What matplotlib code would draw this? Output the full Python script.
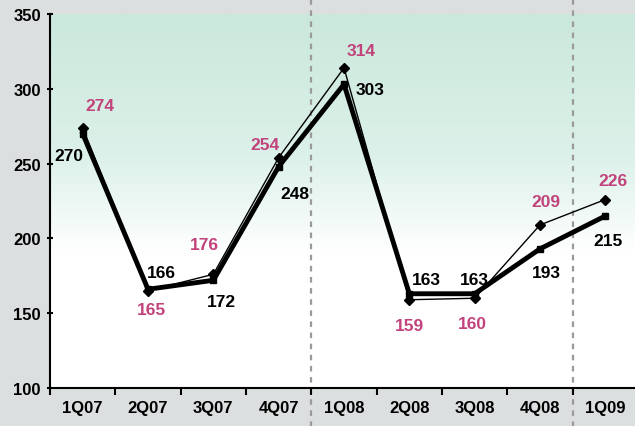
import numpy as np
import matplotlib
matplotlib.use("Agg")
import matplotlib.pyplot as plt
from matplotlib.colors import LinearSegmentedColormap

quarters = ['1Q07', '2Q07', '3Q07', '4Q07', '1Q08', '2Q08', '3Q08', '4Q08', '1Q09']
series_thick = [270, 166, 172, 248, 303, 163, 163, 193, 215]
series_thin = [274, 165, 176, 254, 314, 159, 160, 209, 226]

# label offsets in pixels (dx, dy) for each point
off_thick = [(-14, -22), (13, 17), (8, -21), (16, -27), (26, -5),
             (17, 14), (0, 14), (6, -24), (3, -25)]
off_thin = [(17, 22), (3, -19), (-9, 30), (-14, 13), (17, 17),
            (0, -26), (-2, -25), (6, 23), (8, 19)]

pink = '#c2437c'

plt.rcParams['font.family'] = ['Liberation Sans', 'DejaVu Sans']
plt.rcParams['font.weight'] = 'bold'

fig = plt.figure(figsize=(6.35, 4.27), dpi=100)
fig.patch.set_facecolor('#dcdfe0')
ax = fig.add_axes([50 / 635, 38 / 427, 588 / 635, 374 / 427])
ax.set_facecolor('white')

x = np.arange(len(quarters))
ax.set_xlim(-0.5, len(quarters) - 0.5)
ax.set_ylim(100, 350)

# green-to-white background wash
cmap = LinearSegmentedColormap.from_list(
    'wash', [(0.0, 'white'), (0.36, 'white'), (0.62, '#dcf1e9'), (1.0, '#cbe8dc')])
grad = np.linspace(0, 1, 256).reshape(-1, 1)
ax.imshow(grad, aspect='auto', cmap=cmap, origin='lower',
          extent=(-0.5, len(quarters) - 0.5, 100, 350), zorder=0)

# year separators
for xs in (3.5, 7.5):
    ax.axvline(xs, ymin=-0.12, ymax=1.05, color='#9a9a9a', lw=1.6,
               ls=(0, (2.5, 2.5)), clip_on=False, zorder=1)

ax.plot(x, series_thin, color='black', lw=1.0, marker='D', ms=5, zorder=3)
ax.plot(x, series_thick, color='black', lw=3.5, marker='s', ms=5, zorder=4)

for xi, v, (dx, dy) in zip(x, series_thick, off_thick):
    ax.annotate(str(v), (xi, v), xytext=(dx, dy), textcoords='offset pixels',
                ha='center', va='center', fontsize=12.5, fontweight='bold',
                color='black', zorder=5)
for xi, v, (dx, dy) in zip(x, series_thin, off_thin):
    ax.annotate(str(v), (xi, v), xytext=(dx, dy), textcoords='offset pixels',
                ha='center', va='center', fontsize=12.5, fontweight='bold',
                color=pink, zorder=5)

ax.set_yticks([100, 150, 200, 250, 300, 350])
ax.set_xticks(x)
ax.set_xticklabels(quarters)
ax.set_xticks(np.arange(-0.5, len(quarters), 1.0), minor=True)
ax.tick_params(axis='x', which='major', length=0, pad=9, labelsize=12)
ax.tick_params(axis='x', which='minor', length=5, width=1.5, direction='out')
ax.tick_params(axis='y', length=5, width=1.5, direction='inout', labelsize=12, pad=4)

for lab in ax.get_xticklabels() + ax.get_yticklabels():
    lab.set_fontweight('bold')

for side in ('top', 'right'):
    ax.spines[side].set_visible(False)
for side in ('left', 'bottom'):
    ax.spines[side].set_linewidth(1.5)

fig.savefig('out.png', dpi=100, facecolor=fig.get_facecolor())
